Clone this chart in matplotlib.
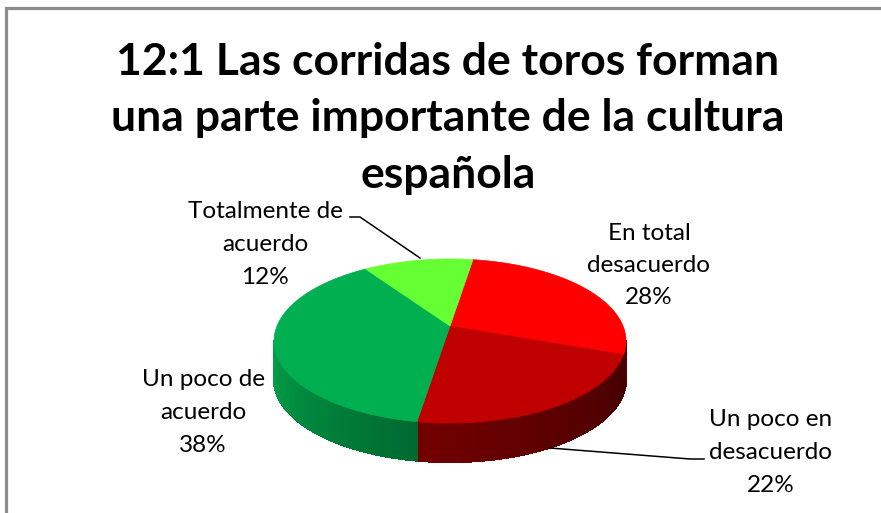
import numpy as np
import matplotlib.pyplot as plt
from matplotlib.colors import to_rgb
from matplotlib.patches import Polygon
from matplotlib.collections import PolyCollection

# data
categories = ["En total\ndesacuerdo", "Un poco en\ndesacuerdo",
              "Un poco de\nacuerdo", "Totalmente de\nacuerdo"]
values = [28, 22, 38, 12]
top_colors = ["#FF0000", "#C00000", "#00B050", "#66FF33"]
title = "12:1 Las corridas de toros forman\nuna parte importante de la cultura\nespañola"

# pie geometry (pixels), simple perspective for the tilted disc
cx, cy = 450, 326
A, B, p = 173, 79.3, 0.183
depth = 39
start = 81.0


def project(theta_deg):
    t = np.radians(theta_deg)
    X, Z = np.cos(t), np.sin(t)
    d = 1 + p * Z
    return cx + A * X / d, cy - B * Z / d


def shade(theta_deg):
    # lighting on the side wall, bright on the left, dark on the right
    return np.interp(theta_deg, [-169.5, -99, -10.5], [0.93, 0.6, 0.33])


fig = plt.figure(figsize=(8.81, 5.13), dpi=100)
ax = fig.add_axes([0, 0, 1, 1])
ax.set_xlim(0, 881)
ax.set_ylim(513, 0)
ax.axis("off")

# chart border (only left and top are visible)
ax.plot([6, 6, 881], [513, 8, 8], color="#8C8C8C", lw=2.3, solid_joinstyle="miter")

# slice angles, clockwise from the start angle
fracs = np.array(values) / sum(values)
bounds = start - 360 * np.concatenate([[0], np.cumsum(fracs)])

vis_lo = -180 + np.degrees(np.arcsin(p))   # left silhouette
vis_hi = -np.degrees(np.arcsin(p))         # right silhouette

# side walls
for i, col in enumerate(top_colors):
    a0, a1 = bounds[i + 1], bounds[i]
    for off in (0, -360):
        lo = max(a0 - off, vis_lo)
        hi = min(a1 - off, vis_hi)
        if hi <= lo:
            continue
        th = np.linspace(lo, hi, max(int((hi - lo) * 2), 2))
        rgb = np.array(to_rgb(col))
        quads, cols = [], []
        for t0, t1 in zip(th[:-1], th[1:]):
            x0, y0 = project(t0)
            x1, y1 = project(t1)
            quads.append([(x0, y0), (x1, y1), (x1, y1 + depth), (x0, y0 + depth)])
            cols.append(rgb * shade((t0 + t1) / 2))
        ax.add_collection(PolyCollection(quads, facecolors=cols, edgecolors=cols,
                                         linewidths=0.8, antialiaseds=False))

# top faces
for i, col in enumerate(top_colors):
    th = np.linspace(bounds[i], bounds[i + 1], 120)
    xs, ys = project(th)
    pts = [(cx, cy)] + list(zip(xs, ys))
    ax.add_patch(Polygon(pts, closed=True, facecolor=col, edgecolor=col, lw=0.5))

# title
for k, line in enumerate(title.split("\n")):
    ax.text(448, 62 + k * 56.5, line, ha="center", va="center",
            fontsize=32, fontweight="bold", family="Lato")

# data labels
label_pos = [(649, 233), (771, 420), (203, 380), (265, 212)]
for cat, v, (lx, ly) in zip(categories, values, label_pos):
    lines = cat.split("\n") + [f"{v}%"]
    for k, line in enumerate(lines):
        ax.text(lx, ly + k * 32.5, line, ha="center", va="center",
                fontsize=17.5, family="Lato", color="black")

# leader lines
ax.plot([350, 360, 420], [217, 217, 258], color="black", lw=1.1)
ax.plot([550, 690, 704], [448, 459, 459], color="black", lw=1.1)

fig.savefig("out.png", dpi=100)
